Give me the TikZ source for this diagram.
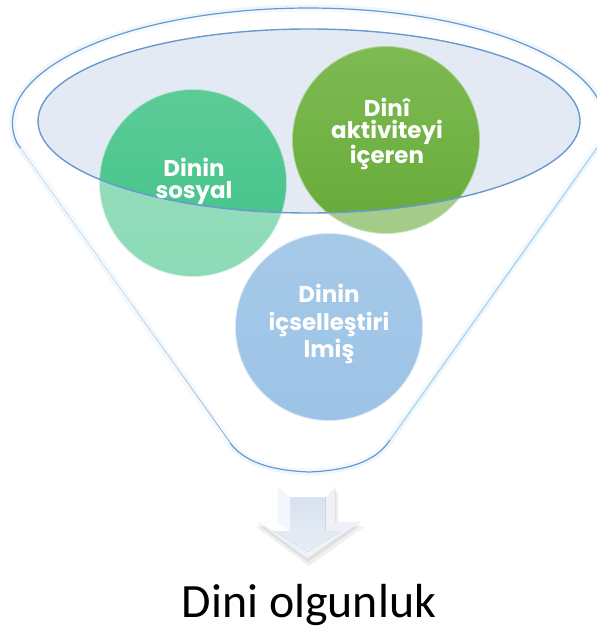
\documentclass[tikz,border=0pt]{standalone}
\usepackage{fontspec}
\setmainfont{Carlito}
\newfontfamily\circfont{Poppins}
\usetikzlibrary{calc}
\definecolor{rimblue}{HTML}{6A98D0}
\definecolor{rimlight}{HTML}{A6D3EE}
\definecolor{openfill}{HTML}{E4EAF4}
\definecolor{grn}{HTML}{3FC286}
\definecolor{grnlight}{HTML}{5CCB98}
\definecolor{dgrn}{HTML}{66AA38}
\definecolor{dgrnlight}{HTML}{7EBB53}
\definecolor{blu}{HTML}{5B9BD5}
\definecolor{blulight}{HTML}{6CA6DA}
\definecolor{arrbase}{HTML}{EEF2F8}
\definecolor{arrface}{HTML}{D8E2F0}
\tikzset{
  ball/.style={circle, minimum size=187bp, inner sep=0pt},
  balltext/.style={text=white, align=center, font=\circfont\bfseries\fontsize{23}{#1}\selectfont},
  rim/.style={draw=rimblue, line width=1.2bp},
}
\begin{document}
\begin{tikzpicture}[x=1bp,y=-1bp]
\useasboundingbox (0,0) rectangle (597,635);
% funnel body
\def\funnelpath{(17,143) arc[start angle=170,end angle=370,x radius=296,y radius=115]
   -- (390,440) .. controls (378,458) and (356,470) .. (309,472)
   .. controls (262,470) and (240,458) .. (228,440) -- cycle}
\fill[white] \funnelpath;
\draw[rimlight!40, line width=7bp, opacity=0.5] \funnelpath;
% opening
\fill[openfill] (309,121) ellipse[x radius=271, y radius=92];
% balls
\node[ball, top color=grnlight, bottom color=grn, draw=white!60!grn, line width=0.8bp] (sos) at (193,183) {};
\node[ball, top color=dgrnlight, bottom color=dgrn, draw=white!50!dgrn, line width=0.8bp] (akt) at (386,140) {};
\node[ball, top color=blulight, bottom color=blu, draw=white!60!blu, line width=0.8bp] (ics) at (329,327) {};
% veil of the funnel wall
\fill[white, opacity=0.4, even odd rule] \funnelpath (309,121) ellipse[x radius=271, y radius=92];
% outlines
\draw[rim] (17,143) arc[start angle=170,end angle=370,x radius=296,y radius=115];
\draw[rim] (17,143) -- (228,440) .. controls (240,458) and (262,470) .. (309,472)
   .. controls (356,470) and (378,458) .. (390,440);
\draw[draw=rimlight, line width=1.2bp] (390,440) -- (600.5,143);
\draw[draw=white, line width=3bp, opacity=0.7] (21,148) -- (229,444);
\draw[rim, line width=1.4bp] (309,121) ellipse[x radius=271, y radius=92];
% texts
\node[balltext=22] (sost) at (194,181) {Dinin\\sosyal};
\node[balltext=22] (aktt) at (387,134) {Dinî\\aktiviteyi\\içeren};
\node[balltext=28] (icst) at (329,324) {Dinin\\içselleştiri\\lmiş};
% arrow
\node[coordinate] (tip) at (307,558) {};
\fill[gray, opacity=0.12] (281,492) -- (338,492) -- (338,527) -- (364,527) -- (309,566) -- (256,527) -- (281,527) -- cycle;
\fill[gray, opacity=0.15] (280,490) -- (336,490) -- (336,525) -- (361,525) -- (308,562) -- (258,525) -- (280,525) -- cycle;
\fill[arrbase, draw=white!80!gray, line width=0.4bp]
  (278,487) -- (335,487) -- (335,522) -- (360,522) -- (tip) -- (258,522) -- (278,522) -- cycle;
\fill[top color=arrface, bottom color=arrface!60!white]
  (290,497) -- (325,497) -- (325,531) -- (342,531) -- (308,552) -- (274,531) -- (290,531) -- cycle;
\fill[white] (278,487) -- (335,487) -- (325,497) -- (290,497) -- cycle;
\fill[white!70!arrface] (278,487) -- (290,497) -- (290,531) -- (278,522) -- cycle;
\fill[white] (258,522) -- (278,522) -- (290,531) -- (274,531) -- cycle;
\fill[white!50!arrface] (258,522) -- (274,531) -- (308,552) -- (tip) -- cycle;
\fill[white!60!arrface] (360,522) -- (342,531) -- (308,552) -- (tip) -- cycle;
% result
\node[anchor=base, font=\fontsize{48}{52}\selectfont, text=black] (res) at (309,617) {Dini olgunluk};
\end{tikzpicture}
\end{document}
